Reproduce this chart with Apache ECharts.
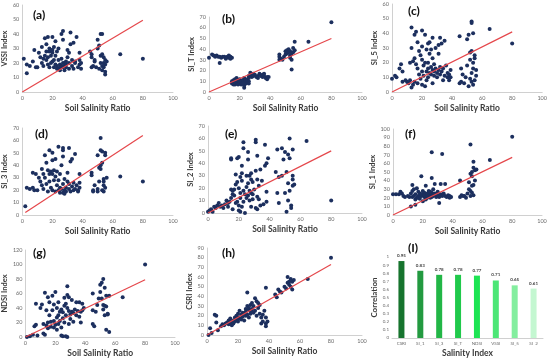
<!DOCTYPE html>
<html><head><meta charset="utf-8">
<script src="https://cdn.jsdelivr.net/npm/echarts@6/dist/echarts.min.js"></script>
<style>html,body{margin:0;padding:0;background:#fff}#c{width:550px;height:360px}</style>
</head><body><div id="c"></div>
<script>
// ---- data ----
const vssi = [[1,23],[3,13],[3,19],[5,18],[7,21],[8,29],[9,17],[10,17],[11,27],[12,24],[13,20],[13,31],[14,23],[15,37],[15,25],[16,22],[16,33],[17,38],[17,19],[18,28],[18,30],[18,17],[19,29],[19,25],[20,38],[20,27],[20,21],[21,31],[21,17],[22,35],[22,25],[23,18],[23,28],[24,30],[24,16],[24,22],[25,19],[25,15],[26,40],[26,23],[27,17],[27,36],[27,42],[28,18],[28,15],[28,20],[29,17],[29,19],[30,24],[30,29],[31,27],[31,20],[32,41],[32,33],[33,18],[33,22],[34,34],[34,16],[35,20],[35,21],[36,38],[37,17],[38,19],[38,27],[38,22],[39,20],[39,16],[14,18],[16,28],[19,20],[21,22],[22,19],[23,16],[26,18],[29,21],[31,16],[17,24],[20,29],[25,17],[27,20],[45,28],[46,26],[46,24],[46,17],[47,18],[48,21],[48,22],[49,17],[50,36],[50,30],[51,16],[51,32],[52,20],[52,25],[52,40],[53,40],[53,15],[53,26],[53,18],[54,20],[54,24],[54,17],[55,14],[55,12],[55,22],[55,19],[56,21],[65,26],[80,23]];
const siT = [[0,32],[2,35],[3,34],[4,33],[5,34],[6,33],[7,27],[7,33],[8,32],[9,33],[10,33],[11,32],[12,33],[13,32],[13,34],[14,33],[15,32],[14,31],[11,31],[15,8],[15,10],[16,9],[16,11],[17,7],[17,12],[18,8],[18,10],[18,13],[19,9],[19,11],[20,8],[20,12],[21,10],[21,7],[22,9],[22,11],[23,4],[23,6],[23,13],[24,8],[24,10],[24,12],[25,9],[25,11],[26,10],[26,13],[26,8],[17,9],[19,7],[20,10],[22,8],[16,7],[26,15],[27,16],[27,18],[28,17],[28,14],[29,15],[29,17],[30,16],[31,14],[32,13],[32,15],[33,17],[34,15],[35,14],[35,16],[36,15],[37,13],[38,14],[38,12],[39,14],[36,17],[46,30],[46,33],[46,35],[47,31],[48,30],[49,33],[50,35],[50,38],[51,36],[51,39],[52,37],[52,40],[53,38],[53,34],[53,32],[54,36],[54,30],[54,21],[55,37],[55,41],[56,47],[56,39],[65,47],[80,65]];
const si5 = [[0,9],[2,11],[3,10],[5,16],[6,19],[7,14],[7,7],[9,8],[10,7],[11,6],[12,8],[12,20],[13,44],[13,30],[13,3],[14,21],[14,5],[15,39],[15,23],[15,7],[16,41],[16,19],[17,34],[17,16],[17,6],[18,28],[18,12],[19,9],[19,25],[20,42],[20,31],[20,22],[20,14],[20,5],[21,18],[21,11],[22,39],[22,20],[22,4],[23,29],[23,14],[23,8],[24,33],[24,20],[24,16],[24,10],[25,34],[25,26],[25,13],[26,29],[26,12],[26,17],[27,37],[27,23],[27,15],[27,6],[28,19],[28,14],[28,11],[29,30],[29,16],[30,13],[30,10],[31,32],[31,15],[31,26],[32,37],[32,17],[32,12],[33,33],[33,14],[34,16],[34,8],[35,35],[35,11],[36,18],[37,10],[37,13],[38,12],[38,8],[39,10],[39,15],[45,6],[45,38],[46,16],[46,7],[47,12],[48,6],[49,10],[50,36],[50,18],[51,4],[51,39],[52,22],[52,27],[52,9],[53,48],[53,47],[53,28],[53,13],[53,7],[54,40],[54,20],[54,16],[54,5],[55,25],[55,23],[55,8],[56,15],[56,11],[65,43],[80,33]];
const si3 = [[2,7],[3,22],[5,21],[7,22],[8,20],[7,34],[9,33],[10,20],[11,30],[12,27],[13,37],[13,24],[14,33],[14,21],[15,48],[15,30],[16,42],[16,25],[17,19],[17,36],[18,52],[18,33],[18,27],[19,35],[19,22],[20,50],[20,33],[20,44],[20,20],[21,36],[21,28],[22,45],[22,19],[22,31],[23,35],[23,24],[24,55],[24,20],[24,28],[25,33],[25,18],[25,22],[26,40],[26,21],[27,52],[27,54],[27,47],[27,18],[27,25],[28,20],[28,17],[28,29],[29,22],[29,19],[30,34],[30,27],[31,54],[31,25],[31,21],[32,43],[32,19],[33,45],[33,23],[34,20],[34,26],[35,49],[35,21],[36,24],[37,20],[37,19],[38,33],[38,26],[38,22],[46,34],[46,32],[47,20],[47,19],[48,24],[50,48],[51,38],[51,27],[52,62],[52,52],[52,40],[52,37],[53,20],[53,51],[53,42],[54,29],[54,27],[54,24],[54,19],[55,48],[55,22],[55,50],[56,30],[65,31],[80,27],[50,19],[50,21]];
const si2 = [[0,1],[1,2],[2,3],[3,1],[4,5],[5,4],[6,6],[7,8],[8,5],[9,6],[10,4],[11,7],[12,10],[13,8],[13,5],[14,9],[15,44],[15,43],[15,19],[15,12],[16,15],[16,18],[16,3],[17,19],[17,14],[18,31],[18,23],[18,8],[19,44],[19,25],[19,9],[20,45],[20,20],[20,6],[20,2],[21,29],[21,16],[21,12],[21,1],[22,38],[22,26],[22,5],[23,57],[23,52],[23,18],[23,9],[24,15],[24,0],[25,30],[25,21],[25,12],[26,49],[26,43],[26,24],[26,14],[27,30],[27,18],[27,10],[28,32],[28,16],[28,5],[29,11],[29,25],[30,19],[31,59],[31,57],[31,34],[31,4],[32,46],[32,27],[32,13],[32,3],[33,22],[33,11],[34,35],[34,6],[35,26],[36,7],[37,55],[37,38],[38,40],[38,17],[38,9],[39,44],[44,33],[45,51],[45,16],[46,29],[46,8],[48,52],[48,30],[49,43],[50,16],[50,49],[51,33],[51,1],[52,47],[52,24],[52,10],[53,60],[53,44],[53,18],[54,6],[54,4],[55,51],[55,30],[55,27],[55,22],[56,23],[64,58],[80,10],[22,32],[28,27],[29,15]];
const si1 = [[0,24],[2,24],[4,24],[5,27],[6,25],[7,22],[8,21],[10,22],[11,21],[12,25],[12,10],[13,35],[13,28],[13,21],[14,30],[14,22],[15,18],[15,12],[15,24],[16,31],[16,20],[17,27],[17,22],[18,25],[18,19],[19,45],[19,22],[20,28],[20,24],[20,16],[21,21],[21,26],[22,18],[22,34],[22,23],[23,25],[23,20],[24,28],[24,22],[25,24],[25,20],[26,73],[26,43],[26,26],[26,21],[27,30],[27,22],[28,25],[28,36],[29,21],[29,24],[30,23],[30,27],[31,21],[31,14],[32,36],[32,24],[33,71],[33,22],[34,25],[35,36],[35,22],[36,21],[37,23],[38,20],[38,22],[39,21],[45,21],[45,40],[46,23],[47,22],[48,22],[49,20],[50,25],[51,30],[51,38],[52,82],[52,28],[52,22],[53,34],[53,45],[53,50],[54,62],[54,55],[54,23],[55,40],[55,52],[56,53],[65,64],[80,91],[52,48],[53,26],[54,35],[17,20],[19,24],[21,23],[23,22],[25,27],[27,24]];
const ndsi = [[1,0],[3,1],[5,3],[6,15],[7,46],[7,17],[8,2],[10,40],[11,45],[12,18],[12,5],[13,61],[13,3],[14,37],[14,16],[15,55],[15,20],[15,12],[16,48],[16,30],[17,21],[17,14],[18,57],[18,37],[19,45],[19,22],[19,13],[20,62],[20,17],[21,40],[21,27],[21,10],[22,48],[22,30],[22,18],[23,35],[23,22],[24,38],[24,13],[24,2],[25,34],[25,26],[25,1],[26,54],[26,43],[26,20],[27,46],[27,30],[27,1],[28,70],[28,58],[28,40],[28,0],[29,36],[29,55],[29,18],[30,31],[30,25],[31,51],[31,35],[32,33],[32,21],[33,38],[34,48],[34,30],[35,36],[36,28],[36,48],[37,20],[37,35],[38,46],[38,37],[39,40],[45,60],[45,37],[45,18],[46,15],[47,35],[48,44],[49,53],[50,72],[50,62],[51,75],[51,53],[52,80],[52,44],[52,38],[53,43],[53,68],[53,30],[54,57],[54,42],[54,10],[55,32],[55,31],[56,7],[56,57],[65,55],[80,100]];
const csri = [[1,0],[2,7],[3,2],[5,21],[6,20],[6,13],[7,5],[9,9],[10,11],[11,10],[12,12],[13,13],[14,11],[14,15],[15,12],[15,17],[16,14],[16,10],[17,15],[17,12],[18,18],[18,14],[19,16],[19,20],[20,14],[20,22],[20,18],[21,25],[21,17],[22,21],[22,16],[23,23],[23,19],[24,22],[24,15],[25,20],[25,27],[25,24],[26,44],[26,30],[26,21],[27,26],[27,18],[27,28],[28,31],[28,25],[28,22],[29,33],[29,27],[30,23],[30,30],[31,25],[32,35],[32,20],[33,28],[33,33],[34,22],[34,31],[35,18],[35,12],[36,21],[36,14],[37,25],[38,49],[38,18],[38,12],[38,9],[39,14],[44,42],[45,39],[46,47],[47,45],[48,44],[50,50],[51,48],[52,60],[52,54],[53,55],[53,52],[54,50],[54,58],[55,47],[55,55],[56,57],[65,58],[80,80],[31,38],[29,24]];
const trendVSSI = [[0,0],[80,49.5]];
const trendSIT = [[0,0],[80,50]];
const trendSI5 = [[0,0],[80,41]];
const trendSI3 = [[2,2],[80,64]];
const trendSI2 = [[0,0],[80,50]];
const trendSI1 = [[0,0],[80,67]];
const trendNDSI = [[0,0],[80,79]];
const trendCSRI = [[0,0],[80,73]];
const corrCategories = ['CSRI','SI_1','SI_3','SI_T','NDSI','VSSI','SI_5','SI_2'];
const corrValues = [0.95,0.83,0.78,0.78,0.77,0.71,0.65,0.61];
const corrColors = ['#17742e','#239a40','#22b646','#20c94b','#1de453','#4ce676','#84ee9f','#c4f7d1'];

// ---- layout ----
const FONT = 'Lato';
const panels = [
  {lab:'(a)', yname:'VSSI Index', data:vssi, trend:trendVSSI, ymax:60, yint:10, g:{left:22,top:5,width:151,height:87}, t:{left:28,top:4}},
  {lab:'(b)', yname:'SI_T Index', data:siT, trend:trendSIT, ymax:70, yint:10, g:{left:209,top:17,width:153,height:75}, t:{left:217,top:8}},
  {lab:'(c)', yname:'SI_5 Index', data:si5, trend:trendSI5, ymax:60, yint:10, g:{left:392,top:4,width:151,height:88}, t:{left:403,top:0}},
  {lab:'(d)', yname:'SI_3 Index', data:si3, trend:trendSI3, ymax:70, yint:10, g:{left:22,top:128,width:151,height:87}, t:{left:30,top:123}},
  {lab:'(e)', yname:'SI_2 Index', data:si2, trend:trendSI2, ymax:70, yint:10, g:{left:208,top:126,width:154,height:87}, t:{left:220,top:123}},
  {lab:'(f)', yname:'SI_1 Index', data:si1, trend:trendSI1, ymax:100, yint:10, g:{left:393,top:129,width:149,height:86}, t:{left:400,top:123}},
  {lab:'(g)', yname:'NDSI Index', data:ndsi, trend:trendNDSI, ymax:120, yint:20, g:{left:24,top:250,width:151,height:87}, t:{left:28,top:242}},
  {lab:'(h)', yname:'CSRI Index', data:csri, trend:trendCSRI, ymax:90, yint:10, g:{left:207,top:248,width:155,height:87}, t:{left:217,top:242}}
];
const tickLbl = {fontSize:5.5, color:'#6b6b6b', fontFamily:FONT, margin:3};
const nameSt = {fontSize:8.5, fontWeight:'bold', color:'#3a3a3a', fontFamily:FONT};
const axLine = {show:true, lineStyle:{color:'#d0d0d0', width:1}};

const grid=[], xAxis=[], yAxis=[], series=[], title=[];
panels.forEach((p,i)=>{
  grid.push(Object.assign({containLabel:false}, p.g));
  xAxis.push({gridIndex:i, type:'value', min:0, max:100, interval:20, name:'Soil Salinity Ratio', nameLocation:'middle', nameGap:12, nameTextStyle:nameSt, axisLabel:tickLbl, axisLine:axLine, axisTick:{show:false}, splitLine:{show:false}});
  yAxis.push({gridIndex:i, type:'value', min:0, max:p.ymax, interval:p.yint, name:p.yname, nameLocation:'middle', nameGap:11, nameTextStyle:Object.assign({},nameSt,{fontSize:7.5}), axisLabel:tickLbl, axisLine:axLine, axisTick:{show:false}, splitLine:{show:false}});
  series.push({type:'scatter', xAxisIndex:i, yAxisIndex:i, data:p.data, symbolSize:4, itemStyle:{color:'#1c2f5e', opacity:1}, z:2});
  series.push({type:'line', xAxisIndex:i, yAxisIndex:i, data:p.trend, symbol:'none', lineStyle:{color:'#e5474b', width:1.2}, z:3, silent:true});
  title.push({text:p.lab, left:p.t.left, top:p.t.top, textStyle:{fontSize:12, fontWeight:'bold', color:'#111', fontFamily:FONT}});
});
// bar panel
grid.push({left:392, top:257, width:151, height:81});
xAxis.push({gridIndex:8, type:'category', data:corrCategories, name:'Salinity Index', nameLocation:'middle', nameGap:11, nameTextStyle:nameSt, axisLabel:Object.assign({},tickLbl,{fontSize:4.5, interval:0}), axisLine:axLine, axisTick:{show:false}});
yAxis.push({gridIndex:8, type:'value', min:0, max:1, interval:0.1, name:'Correlation', nameLocation:'middle', nameGap:11, nameTextStyle:Object.assign({},nameSt,{fontSize:8}), axisLabel:Object.assign({},tickLbl,{fontSize:4.5, formatter:v=>(v===0||v===1)?String(v):v.toFixed(1)}), axisLine:{show:false}, axisTick:{show:false}, splitLine:{show:false}});
series.push({type:'bar', xAxisIndex:8, yAxisIndex:8, barWidth:6,
  data:corrValues.map((v,k)=>({value:v, itemStyle:{color:corrColors[k]}})),
  label:{show:true, position:'top', distance:3, fontSize:4.5, fontWeight:'bold', color:'#404040', fontFamily:FONT, formatter:d=>d.value.toFixed(2)}});
title.push({text:'(I)', left:403, top:237, textStyle:{fontSize:12, fontWeight:'bold', color:'#111', fontFamily:FONT}});

const chart = echarts.init(document.getElementById('c'), null, {renderer:'canvas'});
chart.setOption({animation:false, backgroundColor:'#fff', title, grid, xAxis, yAxis, series});
</script></body></html>
